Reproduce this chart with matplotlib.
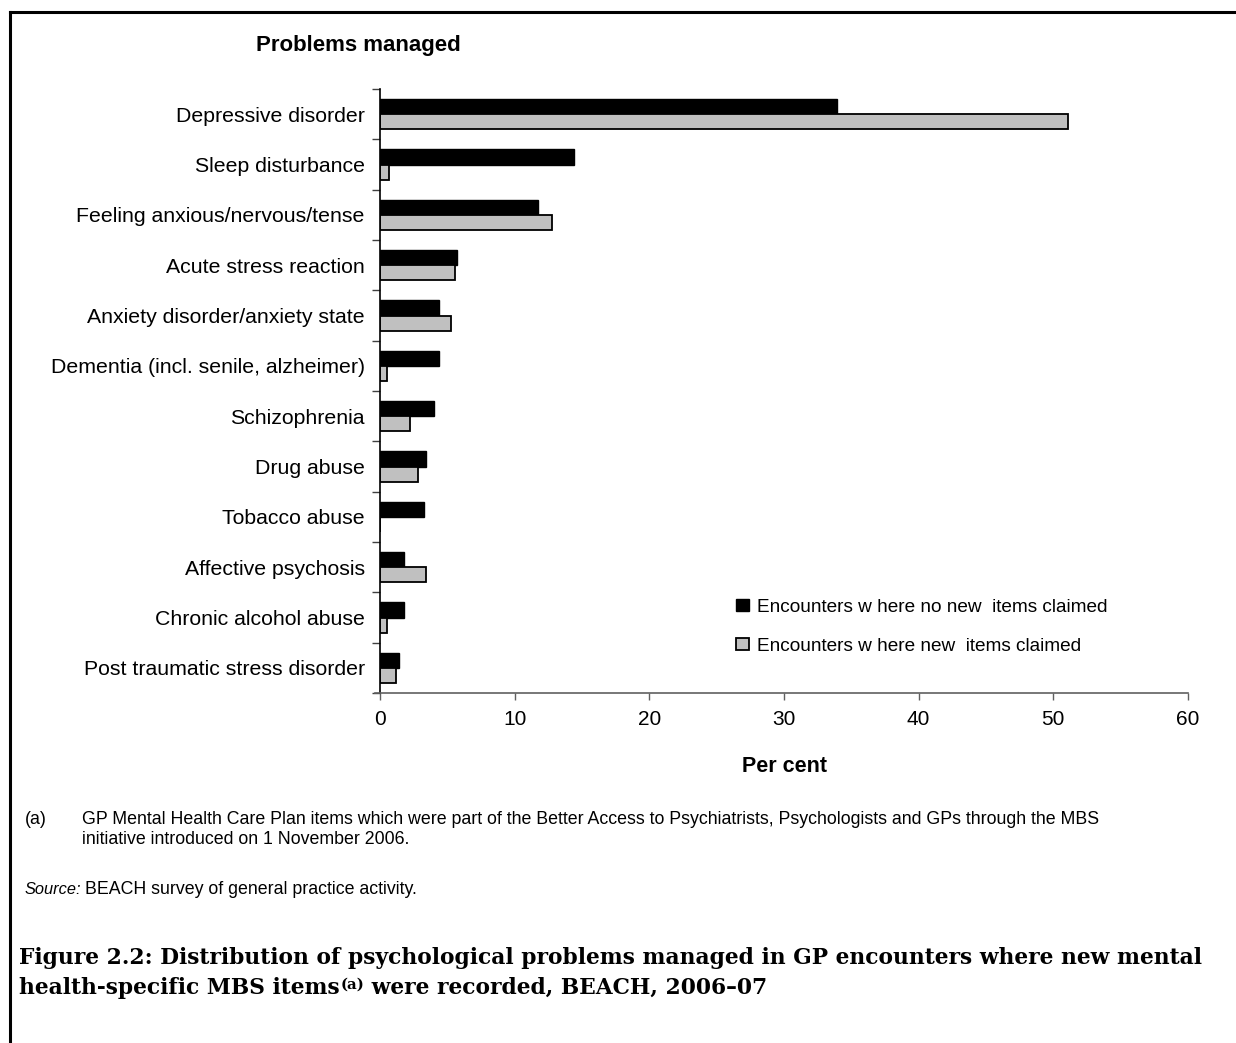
import numpy as np
import matplotlib
matplotlib.use("Agg")
import matplotlib.pyplot as plt
from matplotlib.lines import Line2D

problems = [
    "Depressive disorder",
    "Sleep disturbance",
    "Feeling anxious/nervous/tense",
    "Acute stress reaction",
    "Anxiety disorder/anxiety state",
    "Dementia (incl. senile, alzheimer)",
    "Schizophrenia",
    "Drug abuse",
    "Tobacco abuse",
    "Affective psychosis",
    "Chronic alcohol abuse",
    "Post traumatic stress disorder",
]
no_new_items = [33.9, 14.4, 11.7, 5.7, 4.4, 4.4, 4.0, 3.4, 3.3, 1.8, 1.8, 1.4]
new_items = [51.1, 0.7, 12.8, 5.6, 5.3, 0.5, 2.2, 2.8, 0.0, 3.4, 0.5, 1.2]
series_labels = ["Encounters w here no new  items claimed",
                 "Encounters w here new  items claimed"]
x_ticks = [0, 10, 20, 30, 40, 50, 60]

SANS = "Liberation Sans"
SERIF = "DejaVu Serif"
W, H = 1236, 1043

fig = plt.figure(figsize=(W / 100, H / 100), dpi=100)
ax = fig.add_axes([380 / W, 1 - 693 / H, (1188 - 380) / W, (693 - 89) / H])

y = np.arange(len(problems))
bh = 0.3
ax.barh(y - bh / 2, no_new_items, height=bh, color="black",
        edgecolor="black", lw=1.0, label=series_labels[0])
ax.barh(y + bh / 2, new_items, height=bh, color="#c0c0c0",
        edgecolor="black", lw=1.3, label=series_labels[1])

ax.set_ylim(len(problems) - 0.5, -0.5)
ax.set_xlim(0, 60)
ax.set_xticks(x_ticks)
ax.set_xticklabels([str(v) for v in x_ticks], fontsize=15, family=SANS)
ax.set_yticks(y)
ax.set_yticklabels(problems, fontsize=15.3, family=SANS)
ax.set_yticks(np.arange(len(problems) + 1) - 0.5, minor=True)
ax.tick_params(axis="y", which="major", length=0, pad=11)
ax.tick_params(axis="y", which="minor", length=6, width=1.0, color="#404040")
ax.tick_params(axis="x", length=5, width=1.0, color="#606060", pad=7)

for s in ("top", "right"):
    ax.spines[s].set_visible(False)
ax.spines["left"].set_color("black")
ax.spines["left"].set_linewidth(1.2)
ax.spines["bottom"].set_color("#606060")
ax.spines["bottom"].set_linewidth(1.2)
ax.spines["bottom"].set_bounds(-0.4, 60)

ax.legend(loc="lower right", bbox_to_anchor=(0.922, 0.035), frameon=False,
          prop={"family": SANS, "size": 13.7}, handlelength=0.65,
          handleheight=0.65, handletextpad=0.45, labelspacing=1.15)

fig.text(358 / W, 1 - 46 / H, "Problems managed", fontsize=16,
         weight="bold", family=SANS, ha="center", va="center")
fig.text(784 / W, 1 - 767 / H, "Per cent", fontsize=15.5, weight="bold",
         family=SANS, ha="center", va="center")

# footnotes
FN = 12.8
fig.text(25 / W, 1 - 819 / H, "(a)", fontsize=FN, family=SANS, va="center")
fig.text(82 / W, 1 - 819 / H,
         "GP Mental Health Care Plan items which were part of the Better Access "
         "to Psychiatrists, Psychologists and GPs through the MBS",
         fontsize=FN, family=SANS, va="center")
fig.text(82 / W, 1 - 839 / H, "initiative introduced on 1 November 2006.",
         fontsize=FN, family=SANS, va="center")
fig.text(25 / W, 1 - 889 / H, "Source:", fontsize=11.8, family=SANS,
         style="italic", va="center")
fig.text(85 / W, 1 - 889 / H, "BEACH survey of general practice activity.",
         fontsize=FN, family=SANS, va="center")

# caption, sized so that line 1 spans the same width as in the original
fig.canvas.draw()
r = fig.canvas.get_renderer()
cap1 = fig.text(19 / W, 1 - 958 / H,
                "Figure 2.2: Distribution of psychological problems managed "
                "in GP encounters where new mental",
                fontsize=16, family=SERIF, weight="bold", va="center")
fs = 16 * (1203 - 19) / cap1.get_window_extent(r).width
cap1.set_fontsize(fs)
t1 = fig.text(19 / W, 1 - 988 / H, "health-specific MBS items",
              fontsize=fs, family=SERIF, weight="bold", va="center")
x1 = t1.get_window_extent(r).x1 / W
t2 = fig.text(x1 + 1 / W, 1 - 985 / H, "(a)", fontsize=fs * 0.68,
              family=SERIF, weight="bold", va="center")
x2 = t2.get_window_extent(r).x1 / W
fig.text(x2, 1 - 988 / H, " were recorded, BEACH, 2006\u201307",
         fontsize=fs, family=SERIF, weight="bold", va="center")

# page frame (left and top edges)
fig.add_artist(Line2D([10 / W, 10 / W], [1 - 12 / H, -0.01], color="black",
                      lw=2.2, transform=fig.transFigure))
fig.add_artist(Line2D([10 / W, 1.01], [1 - 12 / H, 1 - 12 / H], color="black",
                      lw=2.2, transform=fig.transFigure))

fig.savefig("out.png", dpi=100)
